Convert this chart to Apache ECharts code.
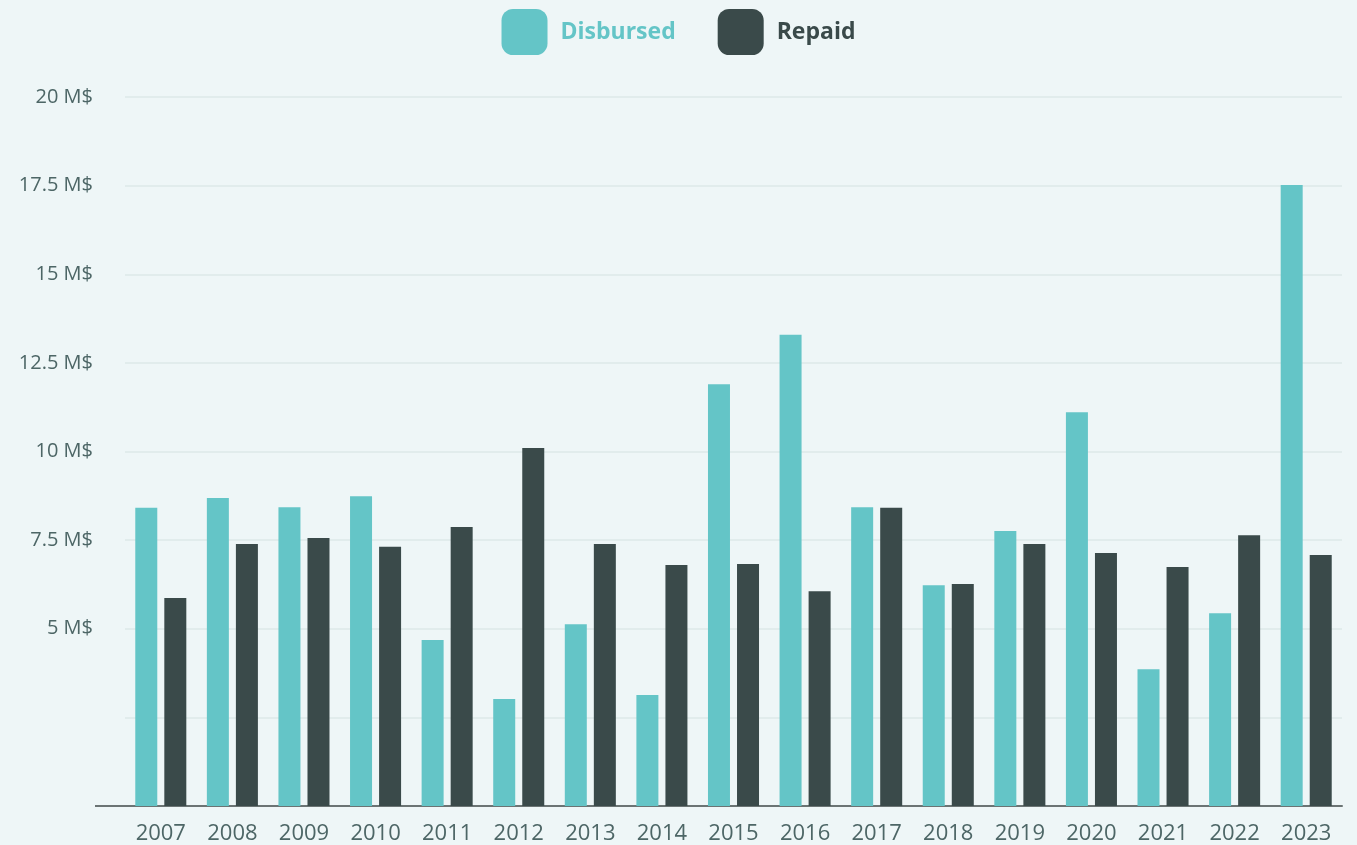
<!DOCTYPE html>
<html>
<head>
<meta charset="utf-8">
<script src="https://cdn.jsdelivr.net/npm/echarts@6/dist/echarts.min.js"></script>
<style>
html,body{margin:0;padding:0;background:#eef6f7;}
#charts{width:1357px;height:845px;}
</style>
</head>
<body>
<div id="charts"></div>
<script>
var years = ['2007','2008','2009','2010','2011','2012','2013','2014','2015','2016','2017','2018','2019','2020','2021','2022','2023'];
var disbursed = [8.41,8.69,8.43,8.74,4.68,3.02,5.13,3.13,11.9,13.29,8.43,6.23,7.76,11.11,3.86,5.44,17.52];
var repaid = [5.87,7.39,7.56,7.31,7.87,10.1,7.39,6.8,6.83,6.06,8.41,6.26,7.39,7.14,6.74,7.64,7.08];

var colDisb = '#64c5c7', colRep = '#3a4a4a';

var charts = echarts.init(document.getElementById('charts'));
var option = {
	backgroundColor:'#eef6f7',
	textStyle:{fontFamily:'Open Sans'},
	animation:false,
	legend:{
		top:4,
		left:'center',
		itemWidth:46,
		itemHeight:46,
		itemGap:42,
		icon:'roundRect',
		textStyle:{fontSize:23,fontWeight:'bold',padding:[0,0,0,8]},
		data:[
			{name:'Disbursed',textStyle:{color:colDisb}},
			{name:'Repaid',textStyle:{color:colRep}}
		]
	},
	grid:{left:125,right:15,top:97,bottom:39},
	xAxis:{
		type:'category',
		data:years,
		axisLine:{lineStyle:{color:'#6b7474',width:2}},
		axisTick:{show:false},
		axisLabel:{color:'#4d6666',fontSize:22,margin:17}
	},
	yAxis:{
		type:'value',
		min:0,
		max:20,
		interval:2.5,
		axisLine:{show:false},
		axisTick:{show:false},
		splitLine:{lineStyle:{color:'#dde8e9',width:1.5}},
		axisLabel:{
			color:'#4d6666',
			fontSize:20,
			margin:32,
			//0 and 2.5 have no label in the original
			formatter:function(v){
				if(v==0||v==2.5){return '';}
				return v+' M$';
			}
		}
	},
	series:[{
		name:'Disbursed',
		type:'bar',
		data:disbursed,
		barWidth:22,
		barGap:'32%',
		itemStyle:{color:colDisb}
	},{
		name:'Repaid',
		type:'bar',
		data:repaid,
		barWidth:22,
		itemStyle:{color:colRep}
	}],
	//axis line runs a little past the plot on the left
	graphic:[{
		type:'line',
		shape:{x1:95,y1:806,x2:126,y2:806},
		style:{stroke:'#6b7474',lineWidth:2}
	}]
};
charts.setOption(option);
</script>
</body>
</html>
